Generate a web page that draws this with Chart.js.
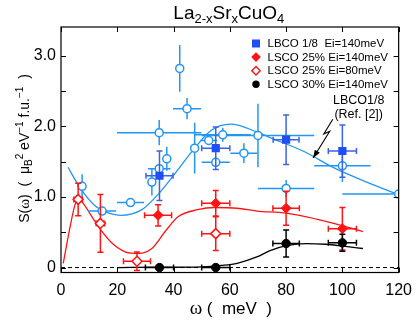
<!DOCTYPE html>
<html><head><meta charset="utf-8">
<script src="https://cdn.jsdelivr.net/npm/chart.js@4/dist/chart.umd.min.js"></script>
<style>html,body{margin:0;padding:0;background:#fff;}</style>
</head><body>
<canvas id="c" width="420" height="329"></canvas>
<script>
// ---------------- data ----------------
const xTickValues = [0, 20, 40, 60, 80, 100, 120];
const yTickLabels = ['0', '1.0', '2.0', '3.0'];

// LBCO 1/8 Ei=140meV (filled squares)
const lbcoOmega = [35, 55, 80, 100];
const lbcoS     = [1.30, 1.69, 1.81, 1.65];
const lbcoXErr  = [4.8, 5, 4.6, 5];
const lbcoYErr  = [0.35, 0.30, 0.35, 0.37];

// LBCO1/8 (Ref. [2]) open circles
const refOmega = [7.5, 14.6, 24.7, 32.3, 34.9, 37.6, 34.9, 42.2, 44.8, 47.5, 52.5, 57.5, 55, 65, 70, 80, 100, 120];
const refS     = [1.15, 0.80, 0.92, 1.21, 1.40, 1.54, 1.91, 2.82, 2.25, 1.69, 1.80, 1.88, 1.49, 1.62, 1.87, 1.12, 1.44, 1.04];
const refXErr  = [0, 5, 4.8, 0, 4, 0, 15, 0, 5, 0, 3, 10, 5, 4.8, 20, 10, 10, 20];
const refYErr  = [0.17, 0, 0, 0.19, 0, 0.17, 0.18, 0.33, 0.15, 0.36, 0, 0.1, 0.06, 0.14, 0.45, 0.12, 0.23, 0];

// LSCO 25% Ei=140meV (filled diamonds)
const l25hOmega = [34.5, 55, 80, 100];
const l25hS     = [0.74, 0.91, 0.84, 0.55];
const l25hXErr  = [4.8, 5, 4.7, 5];
const l25hYErr  = [0.15, 0.18, 0.24, 0.30];

// LSCO 25% Ei=80meV (open diamonds)
const l25lOmega = [6.1, 14, 27, 55];
const l25lS     = [0.965, 0.625, 0.09, 0.48];
const l25lXErr  = [1.5, 1.5, 4.8, 5];
const l25lYErr  = [0.23, 0.41, 0.13, 0.24];

// LSCO 30% Ei=140meV (filled black circles)
const l30Omega = [35, 55, 80, 100];
const l30S     = [0.0, 0.0, 0.34, 0.35];
const l30XErr  = [5, 5, 4.7, 5];
const l30YErr  = [0, 0, 0.19, 0.12];

// fitted guide curves
const fitBlueOmega = [2.5, 6.6, 12, 17, 21.2, 28.8, 34.6, 40.5, 47.5, 53.3, 60.3, 69.6, 74.3, 86, 97.6, 109.3, 119.8];
const fitBlueS     = [1.42, 1.14, 0.88, 0.77, 0.74, 0.82, 1.04, 1.33, 1.69, 1.94, 2.03, 1.92, 1.84, 1.65, 1.40, 1.20, 1.035];
const fitRedOmega  = [0.8, 3.1, 4.9, 6.1, 8.4, 11.3, 14.2, 18.3, 23, 27.6, 32.3, 37, 41.6, 48.6, 54.5, 62.6, 69.6, 80.1, 97.6, 107.3];
const fitRedS      = [0.06, 0.55, 0.88, 0.98, 0.88, 0.70, 0.53, 0.34, 0.22, 0.20, 0.27, 0.51, 0.72, 0.82, 0.85, 0.84, 0.80, 0.77, 0.62, 0.51];
const fitBlackOmega = [20.3, 35, 50, 57, 62.6, 69.6, 74.3, 80.1, 87.1, 94.1, 101.1, 107.3];
const fitBlackS     = [0.0, 0.004, 0.01, 0.03, 0.06, 0.15, 0.24, 0.31, 0.34, 0.33, 0.30, 0.27];
const zeroOmega = [0, 120];
const zeroS = [0, 0];

// annotation (data units)
const annoText = ['LBCO1/8', '(Ref. [2])'];
const annoOmega = 105.8;
const annoS = [2.37, 2.16];
const arrowOmega = [96.6, 93.4, 95.5, 89.6];
const arrowS = [2.10, 1.89, 1.93, 1.55];

const legendLabels = ['LBCO 1/8  Ei=140meV', 'LSCO 25% Ei=140meV', 'LSCO 25% Ei=80meV', 'LSCO 30% Ei=140meV'];

// ---------------- styles ----------------
const SANS = '"Liberation Sans", Arial, Helvetica, sans-serif';
const SERIF = '"Liberation Serif", "Times New Roman", serif';
const LIGHT = '#2196f3';
const DARK = '#1f4ef5';
const DARKERR = '#3c62e6';
const RED = '#ff1414';

const pts = (xs, ys) => xs.map((x, i) => ({x: x, y: ys[i]}));

const datasets = [
  {label: legendLabels[3], data: pts(l30Omega, l30S), pointStyle: 'circle', pointRadius: 4.2, backgroundColor: '#000', borderColor: '#000', borderWidth: 1, showLine: false,
   errX: l30XErr, errY: l30YErr, errColor: '#000', cap: 3},
  {label: legendLabels[1], data: pts(l25hOmega, l25hS), pointStyle: 'rectRot', pointRadius: 5, backgroundColor: RED, borderColor: RED, borderWidth: 1, showLine: false,
   errX: l25hXErr, errY: l25hYErr, errColor: RED, cap: 3},
  {label: legendLabels[2], data: pts(l25lOmega, l25lS), pointStyle: 'rectRot', pointRadius: 5, backgroundColor: '#fff', borderColor: RED, borderWidth: 1.5, showLine: false,
   errX: l25lXErr, errY: l25lYErr, errColor: RED, cap: 3},
  {label: legendLabels[0], data: pts(lbcoOmega, lbcoS), pointStyle: 'rect', pointRadius: 5.8, backgroundColor: DARK, borderColor: DARK, borderWidth: 0, showLine: false,
   errX: lbcoXErr, errY: lbcoYErr, errColor: DARKERR, cap: 3},
  {label: 'ref2', data: pts(refOmega, refS), pointStyle: 'circle', pointRadius: 4, backgroundColor: '#fff', borderColor: LIGHT, borderWidth: 1.5, showLine: false,
   errX: refXErr, errY: refYErr, errColor: LIGHT, cap: 0},
  {label: 'fitBlack', data: pts(fitBlackOmega, fitBlackS), showLine: true, pointRadius: 0, borderColor: '#000', borderWidth: 1.3, cubicInterpolationMode: 'monotone', fill: false},
  {label: 'fitRed', data: pts(fitRedOmega, fitRedS), showLine: true, pointRadius: 0, borderColor: RED, borderWidth: 1.3, cubicInterpolationMode: 'monotone', fill: false},
  {label: 'fitBlue', data: pts(fitBlueOmega, fitBlueS), showLine: true, pointRadius: 0, borderColor: LIGHT, borderWidth: 1.3, cubicInterpolationMode: 'monotone', fill: false},
  {label: 'zero', data: pts(zeroOmega, zeroS), showLine: true, pointRadius: 0, borderColor: '#000', borderWidth: 1, borderDash: [4, 3], fill: false}
];

// ---------------- helpers ----------------
function richWidth(ctx, segs) {
  let w = 0;
  segs.forEach(s => { ctx.font = s.font; s.w = ctx.measureText(s.t).width; w += s.w; });
  return w;
}
function drawRich(ctx, segs, x, y) {
  const w = richWidth(ctx, segs);
  let cx = x - w / 2;
  ctx.textAlign = 'left';
  ctx.textBaseline = 'alphabetic';
  segs.forEach(s => { ctx.font = s.font; ctx.fillText(s.t, cx, y + (s.dy || 0)); cx += s.w; });
}
function marker(ctx, style, x, y, r, fill, stroke, lw) {
  ctx.beginPath();
  if (style === 'circle') ctx.arc(x, y, r, 0, Math.PI * 2);
  else if (style === 'rect') ctx.rect(x - r, y - r, 2 * r, 2 * r);
  else if (style === 'diamond') { ctx.moveTo(x, y - r); ctx.lineTo(x + r, y); ctx.lineTo(x, y + r); ctx.lineTo(x - r, y); ctx.closePath(); }
  if (fill) { ctx.fillStyle = fill; ctx.fill(); }
  if (stroke) { ctx.strokeStyle = stroke; ctx.lineWidth = lw; ctx.stroke(); }
}

// ---------------- plugins ----------------
const errorBars = {
  id: 'errorBars',
  beforeDatasetDraw(chart, args) {
    const ds = chart.data.datasets[args.index];
    if (!ds.errX) return;
    const ctx = chart.ctx, a = chart.chartArea, sx = chart.scales.x, sy = chart.scales.y;
    ctx.save();
    ctx.beginPath(); ctx.rect(a.left, a.top, a.right - a.left, a.bottom - a.top); ctx.clip();
    ctx.strokeStyle = ds.errColor; ctx.lineWidth = 1.5;
    ds.data.forEach((p, i) => {
      const px = sx.getPixelForValue(p.x), py = sy.getPixelForValue(p.y);
      const ex = ds.errX[i], ey = ds.errY[i], c = ds.cap;
      ctx.beginPath();
      if (ex > 0) {
        const x1 = sx.getPixelForValue(p.x - ex), x2 = sx.getPixelForValue(p.x + ex);
        ctx.moveTo(x1, py); ctx.lineTo(x2, py);
        if (c) { ctx.moveTo(x1, py - c); ctx.lineTo(x1, py + c); ctx.moveTo(x2, py - c); ctx.lineTo(x2, py + c); }
      }
      if (ey > 0) {
        const y1 = sy.getPixelForValue(p.y + ey), y2 = sy.getPixelForValue(p.y - ey);
        ctx.moveTo(px, y1); ctx.lineTo(px, y2);
        if (c) { ctx.moveTo(px - c, y1); ctx.lineTo(px + c, y1); ctx.moveTo(px - c, y2); ctx.lineTo(px + c, y2); }
      }
      ctx.stroke();
    });
    ctx.restore();
  }
};

const decor = {
  id: 'decor',
  afterDatasetsDraw(chart) {
    const ctx = chart.ctx, a = chart.chartArea, sx = chart.scales.x, sy = chart.scales.y;
    ctx.save();
    // frame
    ctx.strokeStyle = '#000'; ctx.lineWidth = 1.2;
    ctx.strokeRect(a.left, a.top, a.right - a.left, a.bottom - a.top);
    // inward ticks
    ctx.lineWidth = 1;
    ctx.beginPath();
    sx.ticks.forEach(t => {
      const px = Math.round(sx.getPixelForValue(t.value)) + 0.5;
      ctx.moveTo(px, a.bottom); ctx.lineTo(px, a.bottom - 5);
      ctx.moveTo(px, a.top); ctx.lineTo(px, a.top + 5);
    });
    sy.ticks.forEach(t => {
      const py = Math.round(sy.getPixelForValue(t.value)) + 0.5;
      ctx.moveTo(a.left, py); ctx.lineTo(a.left + 5, py);
      ctx.moveTo(a.right, py); ctx.lineTo(a.right - 5, py);
    });
    ctx.stroke();

    // annotation
    ctx.fillStyle = '#000';
    ctx.font = '12.5px ' + SANS;
    ctx.textAlign = 'center'; ctx.textBaseline = 'middle';
    annoText.forEach((t, i) => ctx.fillText(t, sx.getPixelForValue(annoOmega), sy.getPixelForValue(annoS[i])));
    const ax = arrowOmega.map(v => sx.getPixelForValue(v)), ay = arrowS.map(v => sy.getPixelForValue(v));
    ctx.beginPath();
    ctx.moveTo(ax[0], ay[0]);
    for (let i = 1; i < ax.length; i++) ctx.lineTo(ax[i], ay[i]);
    ctx.lineWidth = 1.1; ctx.strokeStyle = '#000'; ctx.stroke();
    const n = ax.length - 1, ang = Math.atan2(ay[n] - ay[n - 1], ax[n] - ax[n - 1]);
    ctx.beginPath();
    ctx.moveTo(ax[n], ay[n]);
    ctx.lineTo(ax[n] - 8 * Math.cos(ang) + 3 * Math.sin(ang), ay[n] - 8 * Math.sin(ang) - 3 * Math.cos(ang));
    ctx.lineTo(ax[n] - 8 * Math.cos(ang) - 3 * Math.sin(ang), ay[n] - 8 * Math.sin(ang) + 3 * Math.cos(ang));
    ctx.closePath(); ctx.fill();

    // legend
    const lx = a.left + 195, ly0 = a.top + 16.5, dy = 13.6;
    marker(ctx, 'rect', lx, ly0, 4, DARK, null, 0);
    marker(ctx, 'diamond', lx, ly0 + dy, 4.8, RED, null, 0);
    marker(ctx, 'diamond', lx, ly0 + 2 * dy, 4.2, '#fff', RED, 1.4);
    marker(ctx, 'circle', lx, ly0 + 3 * dy, 3.7, '#000', null, 0);
    ctx.fillStyle = '#000';
    ctx.font = '11.5px ' + SANS;
    ctx.textAlign = 'left'; ctx.textBaseline = 'middle';
    legendLabels.forEach((t, i) => ctx.fillText(t, lx + 11.5, ly0 + i * dy + 0.5));
    ctx.restore();
  },
  afterDraw(chart) {
    const ctx = chart.ctx, a = chart.chartArea;
    ctx.save();
    ctx.fillStyle = '#000';
    const cx = (a.left + a.right) / 2 - 1;
    // title
    const big = '19px ' + SANS, sub = '13px ' + SANS;
    drawRich(ctx, [
      {t: 'La', font: big}, {t: '2-x', font: sub, dy: 3.5},
      {t: 'Sr', font: big}, {t: 'x', font: sub, dy: 3.5},
      {t: 'CuO', font: big}, {t: '4', font: sub, dy: 3.5}
    ], cx, 19.3);
    // x title
    drawRich(ctx, [
      {t: 'ω', font: '19px ' + SERIF}, {t: ' (  meV  )', font: '17px ' + SANS}
    ], cx + 2, 314);
    // y title
    ctx.translate(29, 148.5);
    ctx.rotate(-Math.PI / 2);
    const f = '14px ' + SANS, s = '10px ' + SANS;
    drawRich(ctx, [
      {t: 'S(', font: f}, {t: 'ω', font: '15px ' + SERIF}, {t: ')  (  μ', font: f},
      {t: 'B', font: s, dy: 3}, {t: '2', font: s, dy: -6},
      {t: ' eV', font: f}, {t: '−1', font: s, dy: -6},
      {t: ' f.u.', font: f}, {t: '−1', font: s, dy: -6},
      {t: '  )', font: f}
    ], 0, 0);
    ctx.restore();
  }
};

new Chart(document.getElementById('c'), {
  type: 'scatter',
  data: {datasets: datasets},
  options: {
    responsive: false,
    animation: false,
    devicePixelRatio: 1,
    layout: {padding: {top: 27, right: 16, left: 0, bottom: 0}},
    plugins: {legend: {display: false}, tooltip: {enabled: false}, title: {display: false}},
    scales: {
      x: {
        type: 'linear', min: 0, max: 120,
        grid: {display: false, drawTicks: false}, border: {display: false},
        afterBuildTicks: s => { s.ticks = xTickValues.map(v => ({value: v})); },
        ticks: {color: '#000', font: {family: SANS, size: 16}, padding: 8, maxRotation: 0, autoSkip: false,
                callback: v => String(v)},
        afterFit: s => { s.height = 56.5; }
      },
      y: {
        type: 'linear', min: -0.07, max: 3.406,
        grid: {display: false, drawTicks: false}, border: {display: false},
        ticks: {stepSize: 0.5, includeBounds: false, color: '#000', font: {family: SANS, size: 16}, padding: 5, autoSkip: false,
                callback: v => (Math.abs(v - Math.round(v)) < 1e-6 && Math.round(v) >= 0 && Math.round(v) < yTickLabels.length) ? yTickLabels[Math.round(v)] : ''},
        afterFit: s => { s.width = 61; }
      }
    }
  },
  plugins: [errorBars, decor]
});
</script>
</body></html>
